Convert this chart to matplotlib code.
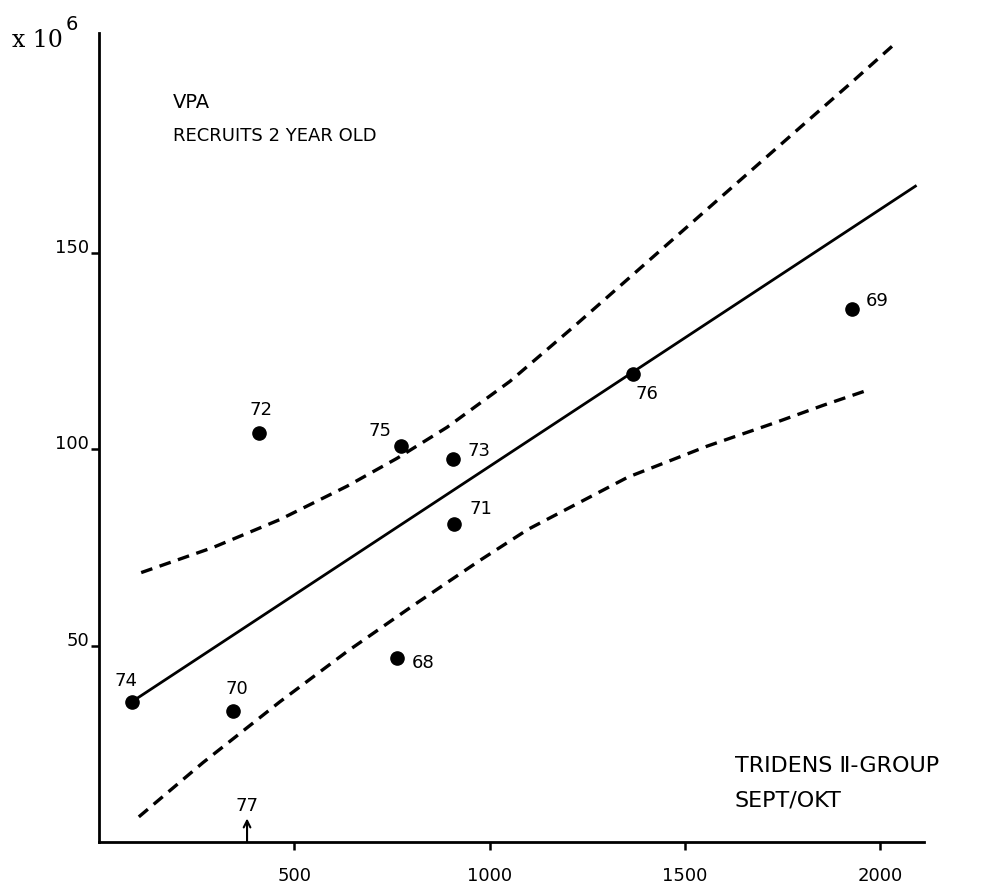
import matplotlib
matplotlib.use("Agg")
import matplotlib.pyplot as plt

# Tridens II-group index (Sept/Okt) against VPA recruits at age 2, x 10^6
years = ["68", "69", "70", "71", "72", "73", "74", "75", "76"]
tridens = [763, 1928, 343, 909, 410, 906, 84, 773, 1367]
recruits = [46.9, 135.7, 33.4, 80.9, 104.1, 97.4, 35.7, 100.8, 119.1]

# regression line
reg_x = [84, 2090]
reg_y = [35.7, 167.0]

# confidence band, upper and lower
upper_x = [108, 292, 463, 635, 763, 891, 1052, 1214, 1342, 1600, 1800, 1923, 2030]
upper_y = [68.6, 75.0, 82.1, 90.6, 97.7, 105.6, 117.3, 131.1, 142.3, 164.9, 182.4, 193.1, 202.6]
lower_x = [102, 266, 463, 635, 804, 975, 1098, 1354, 1557, 1726, 1854, 1969]
lower_y = [6.4, 20.2, 35.7, 48.5, 60.2, 71.7, 79.6, 92.9, 100.8, 106.6, 111.2, 115.1]

# 1977 index value, marked on the x axis
year77 = "77"
tridens77 = 379

xticks = [500, 1000, 1500, 2000]
yticks = [50, 100, 150]

# label offsets (points) for each year label
offsets = {"68": (19, -4), "69": (18, 6), "70": (3, 16), "71": (19, 11),
           "72": (1, 17), "73": (19, 6), "74": (-4, 15), "75": (-15, 11),
           "76": (10, -14)}

plt.rcParams['lines.scale_dashes'] = False

fig = plt.figure(figsize=(9.89, 8.92), dpi=100)
ax = fig.add_axes([99/989, 50/892, 825/989, 809/892])

ax.plot(reg_x, reg_y, color='black', lw=2.0)
ax.plot(upper_x, upper_y, color='black', lw=2.4, ls=(0, (8.5, 5.5)))
ax.plot(lower_x, lower_y, color='black', lw=2.4, ls=(0, (8.5, 5.5)))
ax.plot(tridens, recruits, 'o', color='black', ms=9.5, zorder=5)

for yr, xv, yv in zip(years, tridens, recruits):
    dx, dy = offsets[yr]
    ax.annotate(yr, (xv, yv), xytext=(dx, dy), textcoords='offset points',
                ha='center', va='center', fontsize=13)

ax.annotate('', xy=(tridens77, 6), xytext=(tridens77, 0),
            arrowprops=dict(arrowstyle='->', lw=1.5, color='black',
                            shrinkA=0, shrinkB=0, mutation_scale=12))
ax.annotate(year77, (tridens77, 6), xytext=(0, 9), textcoords='offset points',
            ha='center', va='center', fontsize=13)

ax.set_xlim(0, 2112)
ax.set_ylim(0, 206)
ax.spines['top'].set_visible(False)
ax.spines['right'].set_visible(False)
ax.spines['left'].set_linewidth(2.0)
ax.spines['bottom'].set_linewidth(2.0)

ax.set_xticks(xticks)
ax.set_xticklabels([str(t) for t in xticks])
ax.set_yticks(yticks)
ax.set_yticklabels([str(t) for t in yticks])
ax.tick_params(axis='x', direction='out', length=6, width=1.8, pad=12, labelsize=13)
ax.tick_params(axis='y', direction='out', length=6, width=1.8, pad=1, labelsize=13)
for lab in ax.get_yticklabels():
    lab.set_verticalalignment('baseline')

fig.text(12/989, 1 - 47/892, "x 10", fontsize=17, family='DejaVu Serif')
fig.text(66/989, 1 - 30/892, "6", fontsize=14, family='DejaVu Sans')

fig.text(173/989, 1 - 108/892, "VPA", fontsize=14)
fig.text(173/989, 1 - 141/892, "RECRUITS 2 YEAR OLD", fontsize=13)
fig.text(735/989, 1 - 772/892, "TRIDENS Ⅱ-GROUP", fontsize=16)
fig.text(735/989, 1 - 806/892, "SEPT/OKT", fontsize=16)

fig.savefig("out.png", dpi=100)
